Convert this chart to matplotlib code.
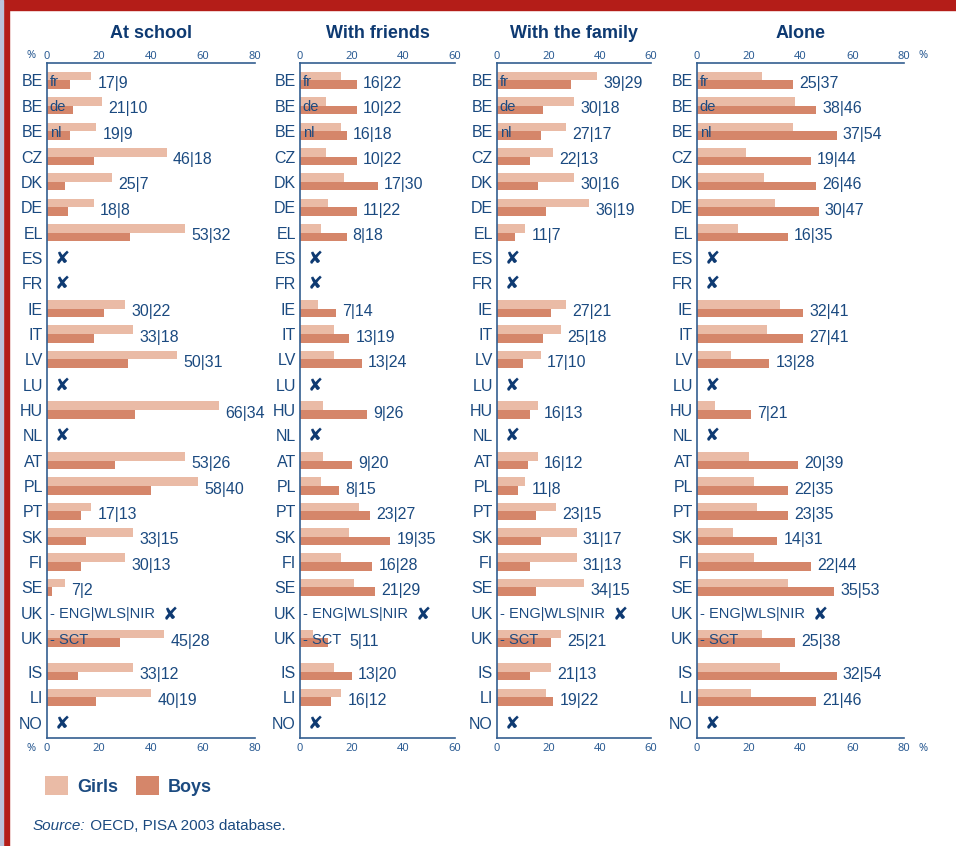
import matplotlib.pyplot as plt
from matplotlib.patches import Rectangle

# Countries (rows, top to bottom) and the small text written inside the row
countries = ["BE", "BE", "BE", "CZ", "DK", "DE", "EL", "ES", "FR", "IE", "IT", "LV", "LU",
             "HU", "NL", "AT", "PL", "PT", "SK", "FI", "SE", "UK", "UK", "IS", "LI", "NO"]
sub_labels = ["fr", "de", "nl", "", "", "", "", "", "", "", "", "", "",
              "", "", "", "", "", "", "", "", "- ENG|WLS|NIR", "- SCT", "", "", ""]

panel_titles = ["At school", "With friends", "With the family", "Alone"]
panel_max = [80, 60, 60, 80]

# % of girls | boys (None = no data)
school_girls = [17, 21, 19, 46, 25, 18, 53, None, None, 30, 33, 50, None, 66, None, 53, 58, 17, 33, 30, 7, None, 45, 33, 40, None]
school_boys = [9, 10, 9, 18, 7, 8, 32, None, None, 22, 18, 31, None, 34, None, 26, 40, 13, 15, 13, 2, None, 28, 12, 19, None]
friends_girls = [16, 10, 16, 10, 17, 11, 8, None, None, 7, 13, 13, None, 9, None, 9, 8, 23, 19, 16, 21, None, 5, 13, 16, None]
friends_boys = [22, 22, 18, 22, 30, 22, 18, None, None, 14, 19, 24, None, 26, None, 20, 15, 27, 35, 28, 29, None, 11, 20, 12, None]
family_girls = [39, 30, 27, 22, 30, 36, 11, None, None, 27, 25, 17, None, 16, None, 16, 11, 23, 31, 31, 34, None, 25, 21, 19, None]
family_boys = [29, 18, 17, 13, 16, 19, 7, None, None, 21, 18, 10, None, 13, None, 12, 8, 15, 17, 13, 15, None, 21, 13, 22, None]
alone_girls = [25, 38, 37, 19, 26, 30, 16, None, None, 32, 27, 13, None, 7, None, 20, 22, 23, 14, 22, 35, None, 25, 32, 21, None]
alone_boys = [37, 46, 54, 44, 46, 47, 35, None, None, 41, 41, 28, None, 21, None, 39, 35, 35, 31, 44, 53, None, 38, 54, 46, None]

panels = [(school_girls, school_boys), (friends_girls, friends_boys),
          (family_girls, family_boys), (alone_girls, alone_boys)]

FONT = ["Liberation Sans", "DejaVu Sans"]
TXT = "#1b4a80"
TICKC = "#2d5d94"
TITLE = "#0e3a72"
AXC = "#345f90"
GIRLS_C = "#eabba6"
BOYS_C = "#d5866a"
RED = "#b41d18"

W, H = 956, 846
fig = plt.figure(figsize=(W / 100, H / 100), dpi=100)
fig.patch.set_facecolor("white")

# frame
fig.patches.append(Rectangle((0, 1 - 10 / H), 1, 10 / H, transform=fig.transFigure, color=RED, zorder=0))
fig.patches.append(Rectangle((3 / W, 0), 6 / W, 1, transform=fig.transFigure, color=RED, zorder=0))
fig.patches.append(Rectangle((0, 0), 3 / W, 1, transform=fig.transFigure, color="#bcc3db", zorder=0))

# row positions, with a gap before IS
ypos = [i + (0.33 if i >= 23 else 0) for i in range(len(countries))]
bh = 0.34

axes_px = [(47, 208), (300, 155), (497, 154), (697, 207)]
top_px, bot_px = 63, 738

for k, (girls, boys) in enumerate(panels):
    left, width = axes_px[k]
    ax = fig.add_axes([left / W, 1 - bot_px / H, width / W, (bot_px - top_px) / H])

    yg = [y - bh / 2 for y, g in zip(ypos, girls) if g is not None]
    yb = [y + bh / 2 for y, b in zip(ypos, boys) if b is not None]
    gv = [g for g in girls if g is not None]
    bv = [b for b in boys if b is not None]
    hg = ax.barh(yg, gv, height=bh, color=GIRLS_C, label="Girls", zorder=2)
    hb = ax.barh(yb, bv, height=bh, color=BOYS_C, label="Boys", zorder=2)

    for i, y in enumerate(ypos):
        g, b = girls[i], boys[i]
        sub = None
        if sub_labels[i]:
            sub = ax.text(1.0, y + 0.06, sub_labels[i], ha="left", va="center", fontsize=10.5,
                          family=FONT, color=TXT, zorder=3)
        if g is None:
            if sub is not None:
                # cross sits a little after the sub-label text
                ax.annotate("\u2718", xy=(1, 0.5), xycoords=sub, xytext=(11, -0.5),
                            textcoords="offset points", ha="center", va="center",
                            fontsize=13, family=["DejaVu Sans"], color=TITLE, zorder=3)
            else:
                ax.text(6, y + 0.04, "\u2718", ha="center", va="center", fontsize=13,
                        family=["DejaVu Sans"], color=TITLE, zorder=3)
        else:
            lx = max(g, b) + 2.4
            if sub_labels[i].startswith("-"):
                lx = max(lx, 19)
            ax.text(lx, y + 0.12, f"{g}|{b}", ha="left", va="center",
                    fontsize=11.5, family=FONT, color=TXT, zorder=3)

    ax.set_xlim(0, panel_max[k])
    ax.set_ylim(25.94, -0.69)
    ticks = list(range(0, panel_max[k] + 1, 20))
    ax.set_xticks(ticks)
    ax.set_yticks(ypos)
    ax.set_yticklabels(countries, family=FONT, fontsize=11.5, color=TXT)
    ax.tick_params(axis="y", length=0, pad=3)
    ax.tick_params(axis="x", length=0, pad=3.5, labelsize=8, labelcolor=TICKC,
                   labelfontfamily="Noto Sans")
    top = ax.secondary_xaxis("top")
    top.set_xticks(ticks)
    top.tick_params(length=0, pad=0.5, labelsize=8, labelcolor=TICKC, labelfontfamily="Noto Sans")
    for s in top.spines.values():
        s.set_visible(False)
    for side in ["left", "top", "bottom"]:
        ax.spines[side].set_color(AXC)
        ax.spines[side].set_linewidth(1.2)
    ax.spines["right"].set_visible(False)
    ax.set_facecolor("none")

    ax.annotate(panel_titles[k], xy=(0.5, 1), xycoords="axes fraction",
                xytext=(0, 30 * 0.72), textcoords="offset points", ha="center", va="center",
                fontsize=13, fontweight="bold", family=FONT, color=TITLE)

# % signs
for yy in (56, 748):
    fig.text(31 / W, 1 - yy / H, "%", ha="center", va="center", fontsize=8,
             family="Noto Sans", color=TICKC)
    fig.text(923 / W, 1 - yy / H, "%", ha="center", va="center", fontsize=8,
             family="Noto Sans", color=TICKC)

# legend
fig.legend(handles=[hg, hb], labels=["Girls", "Boys"], loc="center left",
           bbox_to_anchor=(45 / W, 1 - 786 / H), ncol=2, frameon=False,
           borderpad=0, borderaxespad=0, handlelength=1.27, handleheight=1.27,
           handletextpad=0.5, columnspacing=1.0,
           prop={"family": FONT, "weight": "bold", "size": 13}, labelcolor=TXT)

# source
fig.canvas.draw()
t1 = fig.text(33 / W, 1 - 826 / H, "Source:", ha="left", va="center", fontsize=11,
              style="italic", family=FONT, color=TXT)
bb = t1.get_window_extent(fig.canvas.get_renderer())
fig.text(bb.x1 / W, 1 - 826 / H, " OECD, PISA 2003 database.", ha="left", va="center",
         fontsize=11, family=FONT, color=TXT)

fig.savefig("out.png", dpi=100)
